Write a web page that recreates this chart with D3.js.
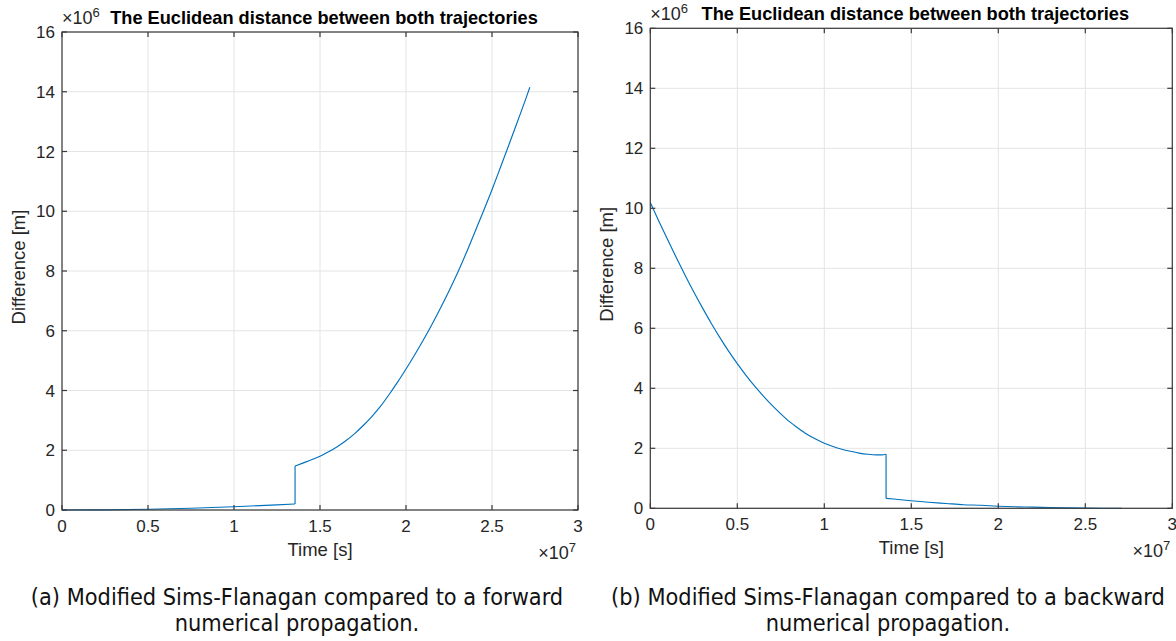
<!DOCTYPE html>
<html>
<head>
<meta charset="utf-8">
<script src="https://cdn.jsdelivr.net/npm/d3@7"></script>
<style>
  html, body { margin: 0; padding: 0; background: #fff; }
  svg { display: block; }
  .tick-label { font-family: "Liberation Sans", Arial, sans-serif; font-size: 17px; fill: #262626; }
  .axis-label { font-family: "Liberation Sans", Arial, sans-serif; font-size: 18.5px; fill: #262626; }
  .title { font-family: "Liberation Sans", Arial, sans-serif; font-size: 18.2px; font-weight: bold; fill: #000; }
  .expo { font-family: "Liberation Sans", Arial, sans-serif; font-size: 18px; fill: #262626; }
  .caption { font-family: "DejaVu Sans Condensed", Tahoma, "DejaVu Sans", sans-serif; font-size: 23.3px; fill: #111; }
</style>
</head>
<body>
<svg id="chart" width="1176" height="641"></svg>
<script>
// Time in units of 1e7 s, difference in units of 1e6 m.
const xTicks = [0, 0.5, 1, 1.5, 2, 2.5, 3];
const yTicks = [0, 2, 4, 6, 8, 10, 12, 14, 16];

// Forward propagation: difference grows, with a step at the mid-point of the transfer.
const forwardTime = [0, 0.25, 0.5, 0.75, 1.0, 1.25, 1.355, 1.355, 1.40, 1.45, 1.50, 1.55, 1.60,
  1.65, 1.70, 1.75, 1.80, 1.85, 1.90, 1.95, 2.00, 2.05, 2.10, 2.15, 2.20, 2.25, 2.30, 2.35,
  2.40, 2.45, 2.50, 2.55, 2.60, 2.65, 2.70, 2.72];
const forwardDiff = [0, 0.006, 0.025, 0.06, 0.11, 0.17, 0.20, 1.47, 1.57, 1.68, 1.80, 1.95, 2.12,
  2.32, 2.55, 2.82, 3.12, 3.46, 3.85, 4.27, 4.72, 5.19, 5.68, 6.20, 6.75, 7.33, 7.94, 8.60,
  9.30, 10.00, 10.72, 11.48, 12.25, 13.03, 13.82, 14.15];

// Backward propagation: difference decays towards the end point.
const backwardTime = [0, 0.05, 0.10, 0.15, 0.20, 0.25, 0.30, 0.35, 0.40, 0.45, 0.50, 0.55, 0.60,
  0.65, 0.70, 0.75, 0.80, 0.85, 0.90, 0.95, 1.00, 1.05, 1.10, 1.15, 1.20, 1.25, 1.30, 1.33,
  1.355, 1.355, 1.40, 1.50, 1.60, 1.70, 1.80, 1.90, 2.00, 2.10, 2.20, 2.30, 2.40, 2.50, 2.60, 2.71];
const backwardDiff = [10.19, 9.56, 8.95, 8.35, 7.77, 7.21, 6.68, 6.17, 5.69, 5.24, 4.82, 4.43, 4.07,
  3.74, 3.43, 3.15, 2.89, 2.67, 2.47, 2.31, 2.17, 2.06, 1.97, 1.90, 1.84, 1.80, 1.78, 1.78,
  1.80, 0.33, 0.31, 0.25, 0.20, 0.16, 0.12, 0.10, 0.07, 0.05, 0.04, 0.025, 0.015, 0.008, 0.003, 0.0];

const titleText = "The Euclidean distance between both trajectories";
const xLabel = "Time [s]";
const yLabel = "Difference [m]";
const captionsA = ["(a) Modified Sims-Flanagan compared to a forward", "numerical propagation."];
const captionsB = ["(b) Modified Sims-Flanagan compared to a backward", "numerical propagation."];

const panels = [
  { left: 62, right: 578, top: 32, bottom: 510, time: forwardTime, diff: forwardDiff,
    caption: captionsA, captionX: 297 },
  { left: 650.3, right: 1172.3, top: 28.3, bottom: 508.3, time: backwardTime, diff: backwardDiff,
    caption: captionsB, captionX: 888 }
];

const svg = d3.select("#chart");
const tickLen = 5;
const fmt = d3.format("~g");

panels.forEach(p => {
  const x = d3.scaleLinear().domain([0, 3]).range([p.left, p.right]);
  const y = d3.scaleLinear().domain([0, 16]).range([p.bottom, p.top]);
  const g = svg.append("g");

  // grid
  g.append("g").selectAll("line").data(xTicks).join("line")
    .attr("x1", d => x(d)).attr("x2", d => x(d))
    .attr("y1", p.top).attr("y2", p.bottom)
    .attr("stroke", "#e4e4e4").attr("stroke-width", 1);
  g.append("g").selectAll("line").data(yTicks).join("line")
    .attr("y1", d => y(d)).attr("y2", d => y(d))
    .attr("x1", p.left).attr("x2", p.right)
    .attr("stroke", "#e4e4e4").attr("stroke-width", 1);

  // curve, drawn as two smooth pieces joined by the vertical step
  const idx = p.time.map((t, i) => i);
  const stepIdx = p.time.findIndex((t, i) => i > 0 && t === p.time[i - 1]);
  const smooth = d3.line().x(i => x(p.time[i])).y(i => y(p.diff[i])).curve(d3.curveMonotoneX);
  const straight = d3.line().x(i => x(p.time[i])).y(i => y(p.diff[i]));
  [idx.slice(0, stepIdx), idx.slice(stepIdx)].forEach(seg => {
    g.append("path").datum(seg).attr("d", smooth)
      .attr("fill", "none").attr("stroke", "#0072BD").attr("stroke-width", 1.15);
  });
  g.append("path").datum([stepIdx - 1, stepIdx]).attr("d", straight)
    .attr("fill", "none").attr("stroke", "#0072BD").attr("stroke-width", 1.15);

  // box
  g.append("rect")
    .attr("x", p.left).attr("y", p.top)
    .attr("width", p.right - p.left).attr("height", p.bottom - p.top)
    .attr("fill", "none").attr("stroke", "#3a3a3a").attr("stroke-width", 1.2);

  // inward ticks on all four sides
  const tk = g.append("g").attr("stroke", "#3a3a3a").attr("stroke-width", 1.2);
  xTicks.forEach(d => {
    tk.append("line").attr("x1", x(d)).attr("x2", x(d)).attr("y1", p.bottom).attr("y2", p.bottom - tickLen);
    tk.append("line").attr("x1", x(d)).attr("x2", x(d)).attr("y1", p.top).attr("y2", p.top + tickLen);
  });
  yTicks.forEach(d => {
    tk.append("line").attr("y1", y(d)).attr("y2", y(d)).attr("x1", p.left).attr("x2", p.left + tickLen);
    tk.append("line").attr("y1", y(d)).attr("y2", y(d)).attr("x1", p.right).attr("x2", p.right - tickLen);
  });

  // tick labels
  g.append("g").selectAll("text").data(xTicks).join("text")
    .attr("class", "tick-label")
    .attr("x", d => x(d)).attr("y", p.bottom + 22)
    .attr("text-anchor", "middle").text(d => fmt(d));
  g.append("g").selectAll("text").data(yTicks).join("text")
    .attr("class", "tick-label")
    .attr("x", p.left - 7).attr("y", d => y(d) + 6)
    .attr("text-anchor", "end").text(d => fmt(d));

  // exponent markers
  const ex = g.append("text").attr("class", "expo")
    .attr("x", p.left).attr("y", p.top - 8);
  ex.append("tspan").text("\u00d710");
  ex.append("tspan").attr("dy", -7).attr("font-size", 13).text("6");

  const ex7 = g.append("text").attr("class", "expo")
    .attr("x", p.right - 2).attr("y", p.bottom + 49).attr("text-anchor", "end");
  ex7.append("tspan").text("\u00d710");
  ex7.append("tspan").attr("dy", -7).attr("font-size", 13).text("7");

  // title, centred over the axes
  g.append("text").attr("class", "title")
    .attr("x", (p.left + p.right) / 2 + 4).attr("y", p.top - 8)
    .attr("text-anchor", "middle")
    .text(titleText);

  // axis labels
  g.append("text").attr("class", "axis-label")
    .attr("x", (p.left + p.right) / 2).attr("y", p.bottom + 46)
    .attr("text-anchor", "middle").text(xLabel);
  g.append("text").attr("class", "axis-label")
    .attr("transform", `translate(${p.left - 37},${(p.top + p.bottom) / 2 - 4}) rotate(-90)`)
    .attr("text-anchor", "middle").text(yLabel);

  // caption below the panel
  p.caption.forEach((c, i) => {
    svg.append("text").attr("class", "caption")
      .attr("x", p.captionX).attr("y", 605 + i * 26)
      .attr("text-anchor", "middle").text(c);
  });
});
</script>
</body>
</html>
